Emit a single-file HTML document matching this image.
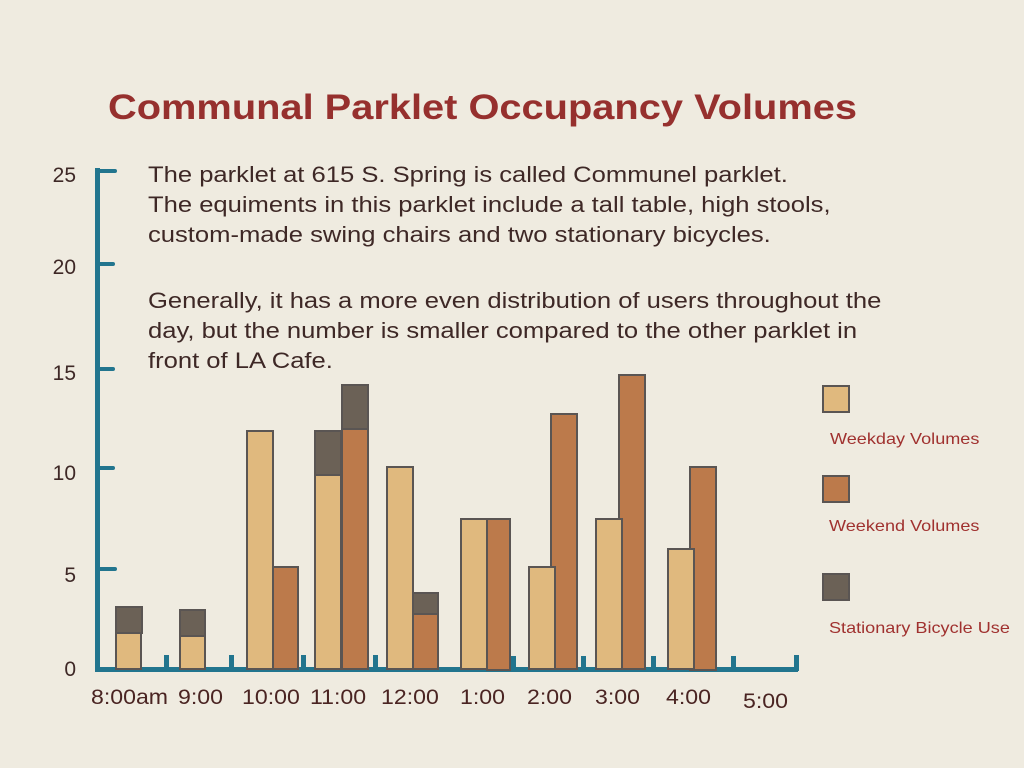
<!DOCTYPE html>
<html><head><style>
body{margin:0;width:1024px;height:768px;background:#efebe0;position:relative;overflow:hidden;font-family:"Liberation Sans",sans-serif}
.a{position:absolute}
.s{transform-origin:0 0;white-space:nowrap}
.t{color:#96302e;font-weight:bold;font-size:35px;left:108px;top:88px;transform:scaleX(1.137)}
.p{color:#3e2826;font-size:22.5px;left:148px;line-height:30px;transform:scaleX(1.137)}
.yl{color:#3e2826;font-size:21px;width:40px;text-align:right;left:36px}
.xl{color:#4a2422;font-size:21px;top:686px;transform:scaleX(1.1)}
.ax{background:#22758e}
.w{background:#e0b97e;border:2.5px solid #5a5553;box-sizing:border-box}
.e{background:#bc7a4b;border:2.5px solid #5a5553;box-sizing:border-box}
.b{background:#6b6156;border:2.5px solid #5a5553;box-sizing:border-box}
.lg{color:#a0312f;font-size:16px;left:830px;transform:scaleX(1.13)}
</style></head><body>
<div class="a s t">Communal Parklet Occupancy Volumes</div>
<div class="a s p" style="top:160px">The parklet at 615 S. Spring is called Communel parklet.<br>The equiments in this parklet include a tall table, high stools,<br>custom-made swing chairs and two stationary bicycles.</div>
<div class="a s p" style="top:286px">Generally, it has a more even distribution of users throughout the<br>day, but the number is smaller compared to the other parklet in<br>front of LA Cafe.</div>
<div class="a yl" style="top:164px">25</div>
<div class="a yl" style="top:256px">20</div>
<div class="a yl" style="top:362px">15</div>
<div class="a yl" style="top:462px">10</div>
<div class="a yl" style="top:564px">5</div>
<div class="a yl" style="top:658px">0</div>
<div class="a ax" style="left:95px;top:168px;width:5px;height:504px"></div>
<div class="a ax" style="left:95px;top:667px;width:703px;height:5px"></div>
<div class="a ax" style="left:95px;top:169px;width:22px;height:4px;border-radius:2px"></div>
<div class="a ax" style="left:95px;top:262px;width:20px;height:4px;border-radius:2px"></div>
<div class="a ax" style="left:95px;top:367px;width:20px;height:4px;border-radius:2px"></div>
<div class="a ax" style="left:95px;top:466px;width:20px;height:4px;border-radius:2px"></div>
<div class="a ax" style="left:95px;top:567px;width:22px;height:4px;border-radius:2px"></div>
<div class="a ax" style="left:164px;top:655px;width:5px;height:14px"></div>
<div class="a ax" style="left:229px;top:655px;width:5px;height:14px"></div>
<div class="a ax" style="left:301px;top:655px;width:5px;height:14px"></div>
<div class="a ax" style="left:373px;top:655px;width:5px;height:14px"></div>
<div class="a ax" style="left:511px;top:656px;width:5px;height:13px"></div>
<div class="a ax" style="left:581px;top:656px;width:5px;height:13px"></div>
<div class="a ax" style="left:651px;top:656px;width:5px;height:13px"></div>
<div class="a ax" style="left:731px;top:656px;width:5px;height:13px"></div>
<div class="a ax" style="left:794px;top:655px;width:5px;height:16px"></div>

<div class="a w" style="left:115px;top:631px;width:27px;height:39px"></div>
<div class="a b" style="left:115px;top:606px;width:28px;height:28px"></div>
<div class="a w" style="left:179px;top:634px;width:27px;height:36px"></div>
<div class="a b" style="left:179px;top:609px;width:27px;height:28px"></div>
<div class="a w" style="left:246px;top:430px;width:28px;height:240px"></div>
<div class="a e" style="left:272px;top:566px;width:27px;height:104px"></div>
<div class="a w" style="left:314px;top:473px;width:28px;height:197px"></div>
<div class="a b" style="left:314px;top:430px;width:28px;height:46px"></div>
<div class="a e" style="left:341px;top:427px;width:28px;height:243px"></div>
<div class="a b" style="left:341px;top:384px;width:28px;height:46px"></div>
<div class="a w" style="left:386px;top:466px;width:28px;height:204px"></div>
<div class="a e" style="left:412px;top:612px;width:27px;height:58px"></div>
<div class="a b" style="left:412px;top:592px;width:27px;height:23px"></div>
<div class="a w" style="left:460px;top:518px;width:28px;height:152px"></div>
<div class="a e" style="left:486px;top:518px;width:25px;height:153px"></div>
<div class="a e" style="left:550px;top:413px;width:28px;height:257px"></div>
<div class="a w" style="left:528px;top:566px;width:28px;height:104px"></div>
<div class="a e" style="left:618px;top:374px;width:28px;height:296px"></div>
<div class="a w" style="left:595px;top:518px;width:28px;height:152px"></div>
<div class="a e" style="left:689px;top:466px;width:28px;height:205px"></div>
<div class="a w" style="left:667px;top:548px;width:28px;height:122px"></div>

<div class="a s xl" style="left:91px">8:00am</div>
<div class="a s xl" style="left:178px">9:00</div>
<div class="a s xl" style="left:242px">10:00</div>
<div class="a s xl" style="left:310px">11:00</div>
<div class="a s xl" style="left:381px">12:00</div>
<div class="a s xl" style="left:460px">1:00</div>
<div class="a s xl" style="left:527px">2:00</div>
<div class="a s xl" style="left:595px">3:00</div>
<div class="a s xl" style="left:666px">4:00</div>
<div class="a s xl" style="left:743px;top:690px">5:00</div>

<div class="a w" style="left:822px;top:385px;width:28px;height:28px"></div>
<div class="a s lg" style="top:431px">Weekday Volumes</div>
<div class="a e" style="left:822px;top:475px;width:28px;height:28px"></div>
<div class="a s lg" style="top:518px;left:829px">Weekend Volumes</div>
<div class="a b" style="left:822px;top:573px;width:28px;height:28px"></div>
<div class="a s lg" style="top:620px;left:829px">Stationary Bicycle Use</div>
</body></html>
